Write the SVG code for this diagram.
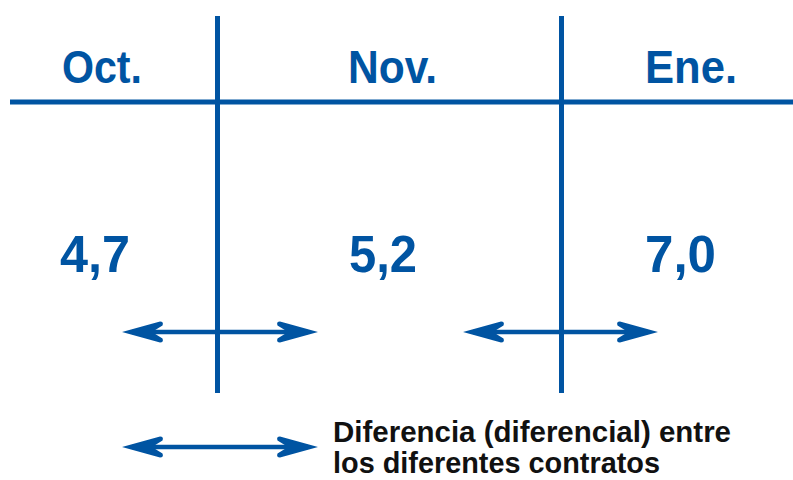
<svg xmlns="http://www.w3.org/2000/svg" width="793" height="480" viewBox="0 0 793 480">
<style>
.ln{stroke:#0054A2;stroke-width:5;fill:none}
.ar{stroke:#0054A2;stroke-width:4.5;fill:none}
.mo{font-family:"Liberation Sans",Arial,sans-serif;font-weight:bold;font-size:46px;fill:#0054A2;text-anchor:middle}
.nu{font-family:"Liberation Sans",Arial,sans-serif;font-weight:bold;font-size:51px;fill:#0054A2;text-anchor:middle}
.lg{font-family:"Liberation Sans",Arial,sans-serif;font-weight:bold;font-size:30px;fill:#111}
</style>
<defs>
<marker id="ah" markerUnits="userSpaceOnUse" viewBox="0 0 44 24" markerWidth="44" markerHeight="24" refX="32" refY="12" orient="auto-start-reverse">
<path d="M42 12 L4 1.5 Q0 1.5 1.5 5.5 L12 12 L1.5 18.5 Q0 22.5 4 22.5 Z" fill="#0054A2"/>
</marker>
</defs>
<g id="grid">
<line class="ln" x1="10" y1="102" x2="793" y2="102"/>
<line class="ln" x1="217.5" y1="16" x2="217.5" y2="393"/>
<line class="ln" x1="561.5" y1="16" x2="561.5" y2="393"/>
</g>
<g id="oct"><text class="mo" x="102" y="83" textLength="80" lengthAdjust="spacingAndGlyphs">Oct.</text><text class="nu" x="95" y="272" textLength="70" lengthAdjust="spacingAndGlyphs">4,7</text></g>
<g id="nov"><text class="mo" x="392.5" y="83" textLength="89" lengthAdjust="spacingAndGlyphs">Nov.</text><text class="nu" x="383" y="272" textLength="68" lengthAdjust="spacingAndGlyphs">5,2</text></g>
<g id="ene"><text class="mo" x="691" y="83" textLength="92" lengthAdjust="spacingAndGlyphs">Ene.</text><text class="nu" x="680.5" y="272" textLength="71" lengthAdjust="spacingAndGlyphs">7,0</text></g>
<g id="connectors">
<line class="ar" x1="132" y1="332" x2="308" y2="332" marker-start="url(#ah)" marker-end="url(#ah)"/>
<line class="ar" x1="473" y1="332" x2="648" y2="332" marker-start="url(#ah)" marker-end="url(#ah)"/>
<line class="ar" x1="132" y1="447" x2="308" y2="447" marker-start="url(#ah)" marker-end="url(#ah)"/>
</g>
<g id="legend">
<text class="lg" x="333" y="442" textLength="398" lengthAdjust="spacingAndGlyphs">Diferencia (diferencial) entre</text>
<text class="lg" x="333" y="473" textLength="327" lengthAdjust="spacingAndGlyphs">los diferentes contratos</text>
</g>
</svg>
